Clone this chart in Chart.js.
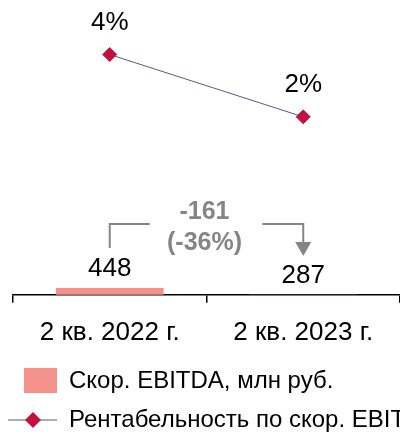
<!DOCTYPE html>
<html>
<head>
<meta charset="utf-8">
<script src="https://cdn.jsdelivr.net/npm/chart.js@4"></script>
<style>
  html, body { margin: 0; padding: 0; background: #fff; }
  #wrap { width: 400px; height: 434px; }
</style>
</head>
<body>
<div id="wrap"><canvas id="chart" width="400" height="434"></canvas></div>
<script>
const categories = ['2 кв. 2022 г.', '2 кв. 2023 г.'];
const ebitda = [448, 287];
const margin = [4, 2];
const legendLabels = ['Скор. EBITDA, млн руб.', 'Рентабельность по скор. EBITDA, %'];

const FONT = '"Liberation Sans", Arial, sans-serif';
const BAR_COLOR = '#F4918A';
const LINE_COLOR = '#4F5E7A';
const MARKER_COLOR = '#C4103D';
const GRAY = '#858585';

// value labels above bars and points
const valueLabels = {
    id: 'valueLabels',
    afterDatasetsDraw(chart) {
        const ctx = chart.ctx;
        ctx.save();
        ctx.font = '26px ' + FONT;
        ctx.fillStyle = '#000';
        ctx.textAlign = 'center';
        ctx.textBaseline = 'middle';
        chart.getDatasetMeta(1).data.forEach((el, i) => {
            ctx.fillText(ebitda[i], el.x, el.y - 19);
        });
        chart.getDatasetMeta(0).data.forEach((el, i) => {
            ctx.fillText(margin[i] + '%', el.x, el.y - 32);
        });
        ctx.restore();
    }
};

// bracket with change between the two bars
const changeBracket = {
    id: 'changeBracket',
    afterDraw(chart) {
        const ctx = chart.ctx;
        const x = chart.scales.x;
        const x1 = x.getPixelForValue(0), x2 = x.getPixelForValue(1);
        const mid = (x1 + x2) / 2;
        const diff = ebitda[1] - ebitda[0];
        const pct = Math.round(diff / ebitda[0] * 100);
        ctx.save();
        ctx.strokeStyle = GRAY;
        ctx.fillStyle = GRAY;
        ctx.lineWidth = 2;
        ctx.beginPath();
        ctx.moveTo(x1, 248); ctx.lineTo(x1, 224); ctx.lineTo(x1 + 40, 224);
        ctx.moveTo(x2 - 41, 224); ctx.lineTo(x2, 224); ctx.lineTo(x2, 243);
        ctx.stroke();
        ctx.beginPath();
        ctx.moveTo(x2 - 8, 242); ctx.lineTo(x2 + 8, 242); ctx.lineTo(x2, 256);
        ctx.closePath();
        ctx.fill();
        ctx.font = 'bold 25px ' + FONT;
        ctx.textAlign = 'center';
        ctx.textBaseline = 'middle';
        ctx.fillText(String(diff), mid - 2, 212);
        ctx.fillText('(' + pct + '%)', mid - 2, 243);
        ctx.restore();
    }
};

// legend stacked at the bottom
const sideLegend = {
    id: 'sideLegend',
    afterDraw(chart) {
        const ctx = chart.ctx;
        ctx.save();
        ctx.fillStyle = BAR_COLOR;
        ctx.fillRect(24, 368, 33, 25);
        ctx.strokeStyle = LINE_COLOR;
        ctx.lineWidth = 1;
        ctx.beginPath();
        ctx.moveTo(8, 420); ctx.lineTo(57, 420);
        ctx.stroke();
        ctx.fillStyle = MARKER_COLOR;
        ctx.beginPath();
        ctx.moveTo(25, 420); ctx.lineTo(33, 412); ctx.lineTo(41, 420); ctx.lineTo(33, 428);
        ctx.closePath();
        ctx.fill();
        ctx.fillStyle = '#000';
        ctx.font = '24px ' + FONT;
        ctx.textBaseline = 'middle';
        ctx.fillText(legendLabels[0], 69, 381);
        ctx.fillText(legendLabels[1], 69, 420);
        ctx.restore();
    }
};

new Chart(document.getElementById('chart'), {
    data: {
        labels: categories,
        datasets: [
            {
                type: 'line',
                data: margin,
                yAxisID: 'y1',
                borderColor: LINE_COLOR,
                borderWidth: 1,
                pointStyle: 'rectRot',
                pointRadius: 7,
                pointBackgroundColor: MARKER_COLOR,
                pointBorderColor: MARKER_COLOR,
                pointBorderWidth: 1,
                order: 0
            },
            {
                type: 'bar',
                data: ebitda,
                yAxisID: 'y',
                backgroundColor: BAR_COLOR,
                categoryPercentage: 1,
                barPercentage: 0.557,
                order: 1
            }
        ]
    },
    options: {
        responsive: false,
        animation: false,
        layout: { autoPadding: false, padding: { left: 13, right: 0, top: 0, bottom: 72 } },
        plugins: { legend: { display: false }, tooltip: { enabled: false } },
        scales: {
            x: {
                offset: true,
                grid: { display: true, drawOnChartArea: false, drawTicks: true, tickLength: 8, color: '#000', lineWidth: 1.5 },
                border: { display: true, color: '#000', width: 1.5 },
                ticks: { color: '#000', font: { family: FONT, size: 26 }, padding: 14, maxRotation: 0 }
            },
            y: { display: false, min: 287, max: 7141 },
            y1: { display: false, min: -3.71, max: 5.75 }
        }
    },
    plugins: [valueLabels, changeBracket, sideLegend]
});
</script>
</body>
</html>
